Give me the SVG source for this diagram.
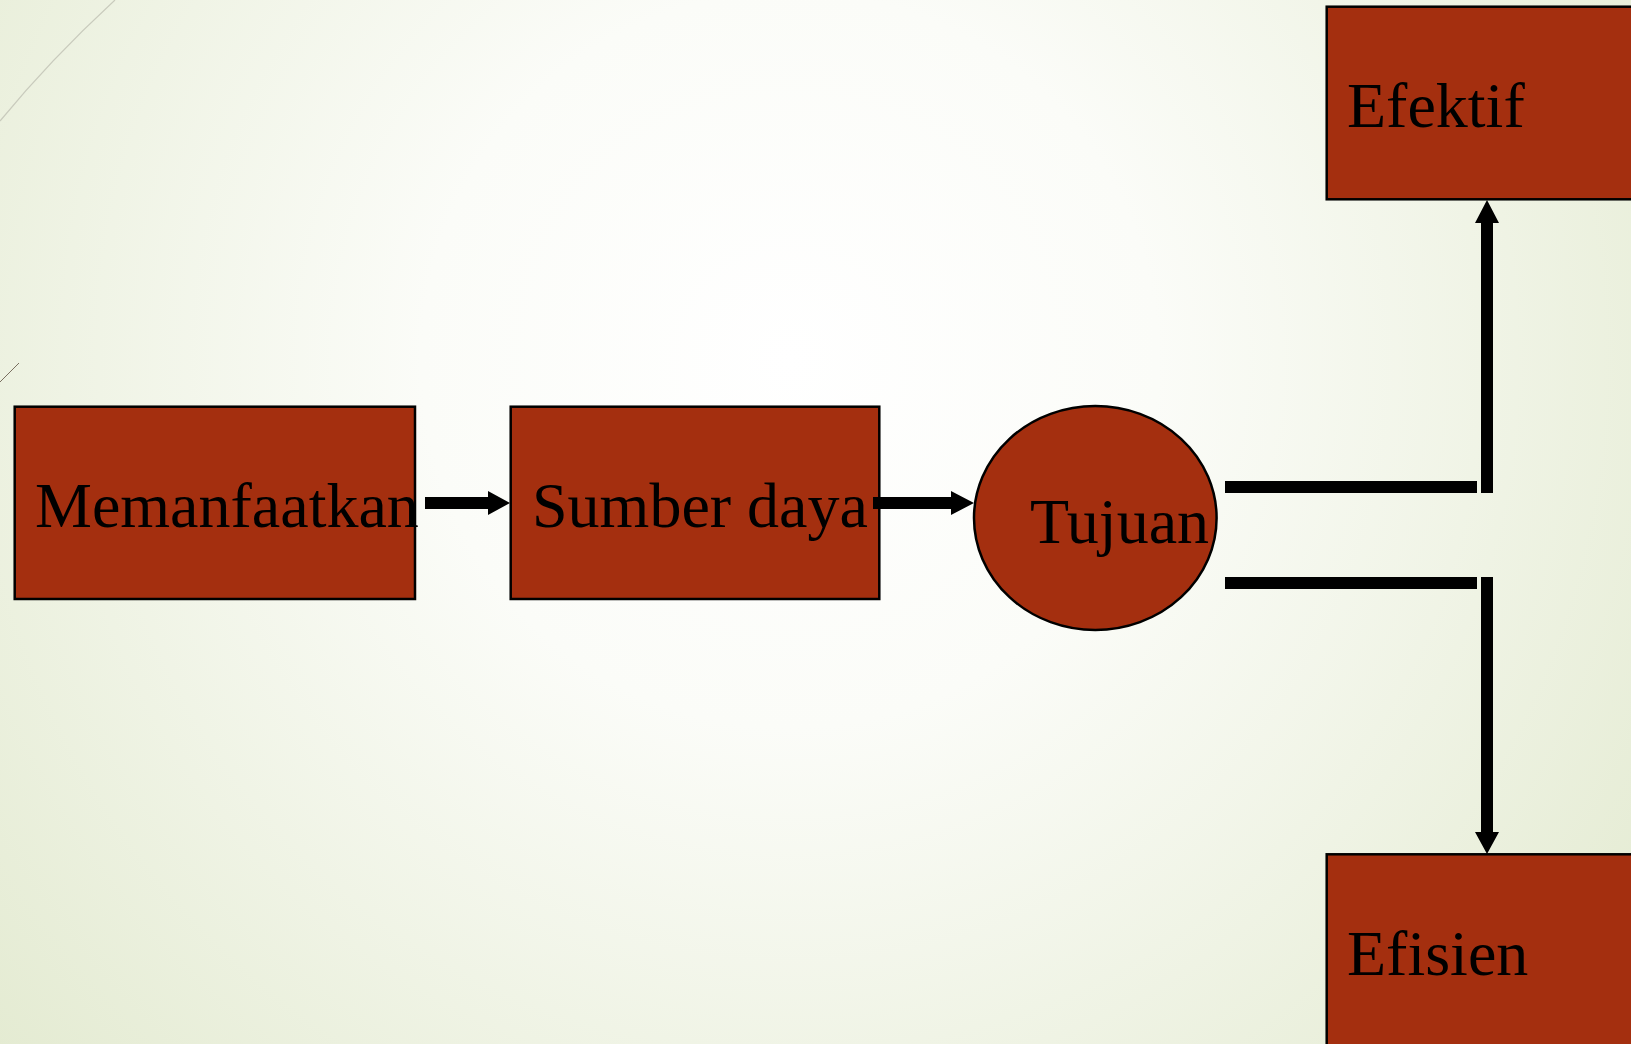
<svg xmlns="http://www.w3.org/2000/svg" width="1631" height="1044" viewBox="0 0 1631 1044">
  <defs>
    <radialGradient id="bg" gradientUnits="userSpaceOnUse" cx="790" cy="360" r="1050">
      <stop offset="0" stop-color="#ffffff"/>
      <stop offset="0.35" stop-color="#fbfcf8"/>
      <stop offset="1" stop-color="#e4ebd2"/>
    </radialGradient>
    <style>
      .node { fill: #a42f0f; stroke: #000000; stroke-width: 2.5; }
      .label { font-family: "Liberation Serif", "Times New Roman", serif; font-size: 64px; fill: #000000; }
      .conn { fill: #000000; stroke: none; }
    </style>
  </defs>
  <rect x="0" y="0" width="1631" height="1044" fill="url(#bg)"/>
  <path d="M115,0 Q50,60 0,121" fill="none" stroke="#c9cbbd" stroke-width="1.2"/>
  <path d="M19,363 L0,382" fill="none" stroke="#7a6f60" stroke-width="1"/>

  <g id="node-memanfaatkan">
    <rect class="node" x="14.7" y="406.7" width="400.3" height="192.3"/>
    <text class="label" x="35" y="526.5">Memanfaatkan</text>
  </g>
  <g id="node-sumber-daya">
    <rect class="node" x="510.7" y="406.7" width="368.6" height="192.3"/>
    <text class="label" x="532" y="526.5">Sumber daya</text>
  </g>
  <g id="node-tujuan">
    <ellipse class="node" cx="1095.3" cy="518" rx="121.3" ry="112"/>
    <text class="label" x="1030" y="543.3">Tujuan</text>
  </g>
  <g id="node-efektif">
    <rect class="node" x="1326.7" y="6.7" width="320" height="192.6"/>
    <text class="label" x="1347" y="126.7">Efektif</text>
  </g>
  <g id="node-efisien">
    <rect class="node" x="1326.7" y="854.3" width="320" height="200"/>
    <text class="label" x="1347" y="975">Efisien</text>
  </g>

  <g id="connectors">
    <polygon class="conn" points="425,497 488,497 488,491 510,503 488,515 488,509 425,509"/>
    <polygon class="conn" points="873,497 951,497 951,491 974,503 951,515 951,509 873,509"/>
    <rect class="conn" x="1225" y="481" width="252" height="12"/>
    <rect class="conn" x="1225" y="577" width="252" height="12"/>
    <polygon class="conn" points="1481,493 1481,223 1475,223 1487,200 1499,223 1493,223 1493,493"/>
    <polygon class="conn" points="1481,577 1481,832 1475,832 1487,854 1499,832 1493,832 1493,577"/>
  </g>
</svg>
